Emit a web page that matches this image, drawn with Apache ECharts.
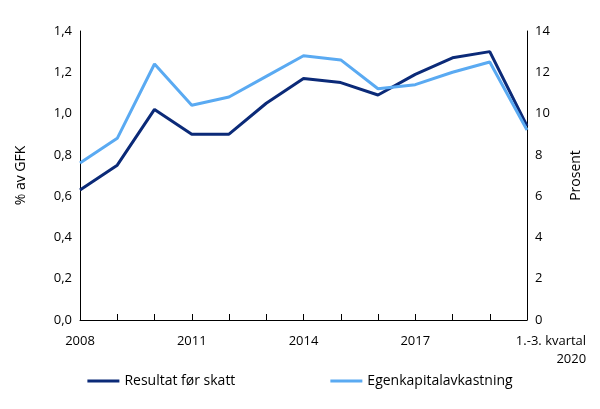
<!DOCTYPE html>
<html><head><meta charset="utf-8">
<script src="https://cdn.jsdelivr.net/npm/echarts@6/dist/echarts.min.js"></script>
<style>body{margin:0}#chart{width:600px;height:409px}</style>
</head><body><div id="chart"></div>
<script>
var chart = echarts.init(document.getElementById('chart'));
var years = ['2008','2009','2010','2011','2012','2013','2014','2015','2016','2017','2018','2019','1.-3. kvartal\n2020'];
var resultat = [0.63,0.75,1.02,0.90,0.90,1.05,1.17,1.15,1.09,1.19,1.27,1.30,0.94];
var egenkapital = [7.6,8.8,12.4,10.4,10.8,11.8,12.8,12.6,11.2,11.4,12.0,12.5,9.2];
var font = 'Open Sans';
chart.setOption({
    animation: false,
    textStyle: {fontFamily: font},
    grid: {left: 80, right: 73, top: 31, bottom: 89},
    legend: {
        bottom: 16, itemGap: 95, itemWidth: 32, itemHeight: 3,
        icon: 'rect',
        textStyle: {fontSize: 14, color: '#000', fontFamily: font},
        data: ['Resultat før skatt','Egenkapitalavkastning']
    },
    xAxis: {
        type: 'category', data: years, boundaryGap: false,
        axisLine: {lineStyle: {color: '#000'}},
        axisTick: {inside: true, length: 6, interval: 0, lineStyle: {color: '#000'}},
        axisLabel: {
            interval: 2, color: '#000', fontSize: 13, margin: 12, lineHeight: 18,
            formatter: function (v, i) { return i === 12 ? '{r|' + v + '}' : v; },
            rich: {r: {align: 'right', fontSize: 13, lineHeight: 18, padding: [0, -48, 0, 0]}}
        }
    },
    yAxis: [
        {type: 'value', min: 0, max: 1.4, interval: 0.2, name: '% av GFK',
         nameLocation: 'middle', nameGap: 52, nameTextStyle: {fontSize: 14, color: '#000'},
         axisLine: {show: true, lineStyle: {color: '#000'}}, axisTick: {show: false}, splitLine: {show: false},
         axisLabel: {color: '#000', fontSize: 13, formatter: function (v) { return v.toFixed(1).replace('.', ','); }}},
        {type: 'value', min: 0, max: 14, interval: 2, name: 'Prosent',
         nameLocation: 'middle', nameGap: 42, nameTextStyle: {fontSize: 14, color: '#000'},
         axisLine: {show: true, lineStyle: {color: '#000'}}, axisTick: {show: false}, splitLine: {show: false},
         axisLabel: {color: '#000', fontSize: 13}}
    ],
    series: [
        {name: 'Resultat før skatt', type: 'line', data: resultat, yAxisIndex: 0, symbol: 'none',
         lineStyle: {width: 3, color: '#0b2a78'}, itemStyle: {color: '#0b2a78'}},
        {name: 'Egenkapitalavkastning', type: 'line', data: egenkapital, yAxisIndex: 1, symbol: 'none',
         lineStyle: {width: 3, color: '#5aaaf2'}, itemStyle: {color: '#5aaaf2'}}
    ]
});
</script></body></html>
